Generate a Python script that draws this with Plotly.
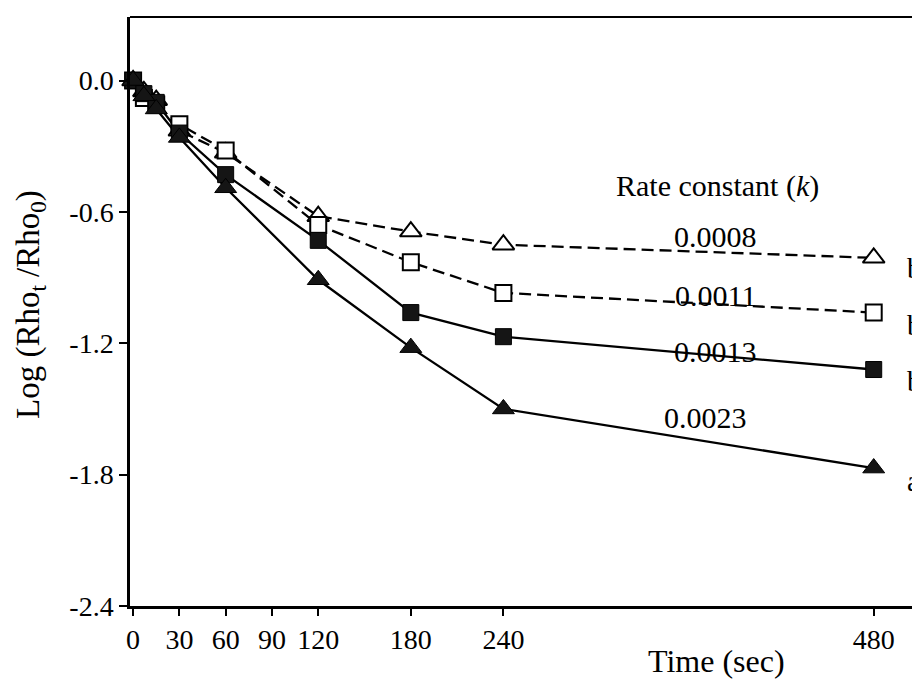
import plotly.graph_objects as go

# ---- data ----
times = [0, 7, 15, 30, 60, 120, 180, 240, 480]
k_0008_open_tri = [0, -0.05, -0.09, -0.23, -0.33, -0.62, -0.69, -0.75, -0.81]
k_0011_open_sq = [0, -0.08, -0.11, -0.20, -0.32, -0.66, -0.83, -0.97, -1.06]
k_0013_fill_sq = [0, -0.06, -0.10, -0.24, -0.43, -0.73, -1.06, -1.17, -1.32]
k_0023_fill_tri = [0, -0.07, -0.13, -0.26, -0.49, -0.91, -1.22, -1.50, -1.77]

rate_labels = ["0.0008", "0.0011", "0.0013", "0.0023"]
group_labels = ["b", "b", "b", "a"]
x_ticks = [0, 30, 60, 90, 120, 180, 240, 480]
y_ticks = [0.0, -0.6, -1.2, -1.8, -2.4]

# ---- layout geometry (page pixels; the page body adds an 8px offset) ----
OFF = 8
W, H = 920 - OFF, 698 - OFF
PL, PR, PT, PB = 130, 920, 17, 606      # plot area in page pixels
ML, MR, MT, MB = PL - OFF, 920 - PR, PT - OFF, H - (PB - OFF)
X0, X1 = -2, 510
Y0, Y1 = -2.4, 0.29
PW, PH = W - ML - MR, H - MT - MB


def pxp(px):
    return (px - OFF - ML) / PW


def pyp(py):
    return 1 - (py - OFF - MT) / PH


FONT = "Liberation Serif, Times New Roman, serif"

fig = go.Figure()

series = [
    (k_0008_open_tri, "triangle-up", True),
    (k_0011_open_sq, "square", True),
    (k_0013_fill_sq, "square", False),
    (k_0023_fill_tri, "triangle-up", False),
]

for vals, sym, is_open in series:
    fig.add_trace(go.Scatter(
        x=times, y=vals, mode="lines",
        line=dict(color="black", width=2.3, dash="12px,6px" if is_open else "solid"),
        hoverinfo="skip", showlegend=False, cliponaxis=False,
    ))

for vals, sym, is_open in series:
    size = 19 if sym == "triangle-up" else 16
    if is_open:
        fig.add_trace(go.Scatter(
            x=times, y=vals, mode="markers",
            marker=dict(symbol=sym, size=size, color="white",
                        line=dict(color="black", width=2)),
            showlegend=False, cliponaxis=False,
        ))
    else:
        fig.add_trace(go.Scatter(
            x=times, y=vals, mode="markers",
            marker=dict(symbol=sym, size=size, color="#151515",
                        line=dict(color="black", width=1)),
            showlegend=False, cliponaxis=False,
        ))

annotations = []


def note(text, px, py, size, xanchor="center", angle=0):
    annotations.append(dict(xref="paper", yref="paper", x=pxp(px), y=pyp(py),
                            xanchor=xanchor, yanchor="middle", text=text,
                            textangle=angle, showarrow=False,
                            font=dict(size=size, family=FONT, color="black")))


note("Rate constant (<i>k</i>)", 717, 186, 30)
rate_pos = [(715, 236), (715, 295), (715, 351), (705, 417)]
for lab, (px, py) in zip(rate_labels, rate_pos):
    note(lab, px, py, 30)
grp_pos = [268, 325, 381, 481]
for lab, py in zip(group_labels, grp_pos):
    note(lab, 905, py, 29, xanchor="left")

note("Time (sec)", 716, 661, 32)
note("Log (Rho<sub>t</sub> /Rho<sub>0</sub>)", 31, 305, 33, angle=-90)

fig.update_layout(
    width=W, height=H,
    margin=dict(l=ML, r=MR, t=MT, b=MB, pad=0, autoexpand=False),
    paper_bgcolor="white", plot_bgcolor="white",
    annotations=annotations,
    showlegend=False,
    xaxis=dict(range=[X0, X1], tickmode="array", tickvals=x_ticks,
               ticktext=[str(t) for t in x_ticks], automargin=False,
               ticks="outside", ticklen=7, tickwidth=2, tickcolor="black",
               showline=True, linecolor="black", linewidth=2.5,
               mirror=False, showgrid=False, zeroline=False,
               tickfont=dict(size=28, family=FONT, color="black")),
    yaxis=dict(range=[Y0, Y1], tickmode="array", tickvals=y_ticks,
               ticktext=["0.0", "-0.6", "-1.2", "-1.8", "-2.4"], automargin=False,
               ticks="outside", ticklen=8, tickwidth=2, tickcolor="black",
               showline=True, linecolor="black", linewidth=2.5,
               showgrid=False, zeroline=False,
               tickfont=dict(size=28, family=FONT, color="black")),
)

# top frame line
fig.add_shape(type="line", xref="paper", yref="paper", x0=0, x1=1, y0=1, y1=1,
              line=dict(color="black", width=2))

fig.write_html("out.html")
